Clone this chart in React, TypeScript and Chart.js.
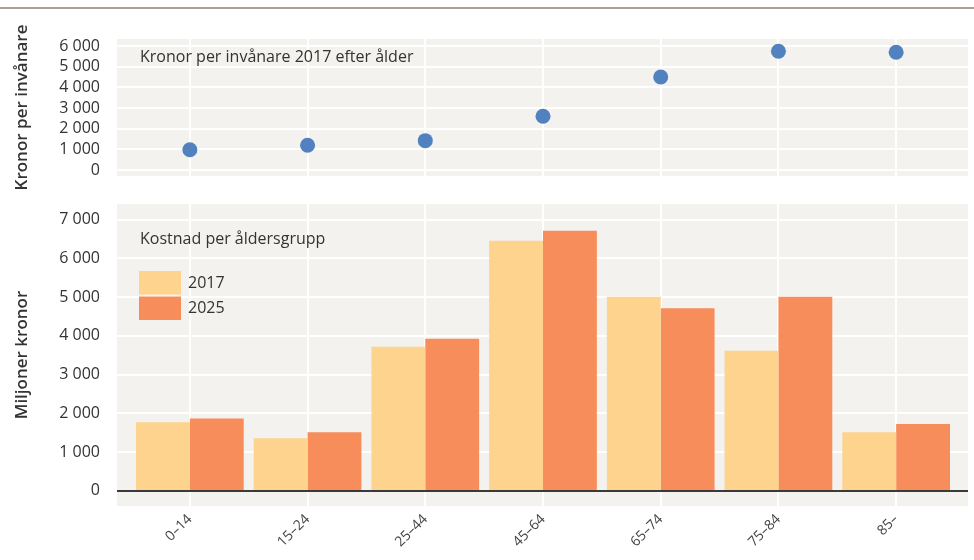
import React, { useEffect, useRef } from 'react';
import { Chart, registerables } from 'chart.js';

Chart.register(...registerables);

// ---- data ----
const categories = ['0–14', '15–24', '25–44', '45–64', '65–74', '75–84', '85–'];
const perCapita2017 = [980, 1200, 1420, 2600, 4500, 5750, 5700];
const cost2017 = [1770, 1360, 3720, 6450, 5010, 3615, 1510];
const cost2025 = [1870, 1510, 3925, 6710, 4710, 5010, 1725];
const seriesLabels = ['2017', '2025'];
const topTicks = [0, 1000, 2000, 3000, 4000, 5000, 6000];
const bottomTicks = [0, 1000, 2000, 3000, 4000, 5000, 6000, 7000];
const topTitle = 'Kronor per invånare 2017 efter ålder';
const bottomTitle = 'Kostnad per åldersgrupp';
const topAxisTitle = 'Kronor per invånare';
const bottomAxisTitle = 'Miljoner kronor';

const FONT = '"Open Sans", "Noto Sans", sans-serif';
const TEXT = '#333333';
const PANEL_BG = '#f3f2ef';
const COLOR_2017 = '#fdd38d';
const COLOR_2025 = '#f68d5a';
const POINT = '#5182bf';

const fmt = (v: number) => String(v).replace(/\B(?=(\d{3})+(?!\d))/g, ' ');

const panelPlugin = {
  id: 'panel',
  beforeDraw(chart: any, _args: any, opts: any) {
    const { ctx, chartArea: a, scales } = chart;
    const left = a.left - opts.padL;
    const right = a.right + opts.padR;
    ctx.save();
    ctx.fillStyle = PANEL_BG;
    ctx.fillRect(left, a.top, right - left, a.bottom - a.top);
    ctx.strokeStyle = '#ffffff';
    ctx.lineWidth = 2;
    scales.y.ticks.forEach((t: any) => {
      const y = Math.round(scales.y.getPixelForValue(t.value));
      ctx.beginPath();
      ctx.moveTo(left, y);
      ctx.lineTo(right, y);
      ctx.stroke();
    });
    ctx.restore();
  },
  afterDatasetsDraw(chart: any, _args: any, opts: any) {
    const { ctx, chartArea: a, scales } = chart;
    const left = a.left - opts.padL;
    const right = a.right + opts.padR;
    ctx.save();
    if (opts.zeroLine) {
      const y = Math.round(scales.y.getPixelForValue(0));
      ctx.strokeStyle = '#3a3a3a';
      ctx.lineWidth = 2;
      ctx.beginPath();
      ctx.moveTo(left, y);
      ctx.lineTo(right, y);
      ctx.stroke();
    }
    ctx.fillStyle = TEXT;
    ctx.font = `16px ${FONT}`;
    ctx.textBaseline = 'middle';
    ctx.textAlign = 'left';
    ctx.fillText(opts.title, a.left + 9, a.top + opts.titleDy);
    if (opts.legend) {
      chart.data.datasets.forEach((ds: any, i: number) => {
        const y0 = a.top + 67 + i * 25.5;
        ctx.fillStyle = ds.backgroundColor;
        ctx.fillRect(a.left + 8, y0, 42, 23.5);
        ctx.fillStyle = TEXT;
        ctx.font = `16px ${FONT}`;
        ctx.fillText(ds.label, a.left + 57, y0 + 12);
      });
    }
    ctx.restore();
  },
};

const yTitle = (text: string) => ({
  display: true,
  text,
  color: TEXT,
  font: { family: FONT, size: 17, weight: '600' },
  padding: { top: 12, bottom: 0 },
});

const yAxisCommon = (values: number[], title: string) => ({
  afterBuildTicks: (s: any) => {
    s.ticks = values.map((v) => ({ value: v }));
  },
  ticks: {
    padding: 31,
    color: TEXT,
    font: { family: FONT, size: 16 },
    callback: (v: any) => fmt(Number(v)),
  },
  grid: { display: false, drawTicks: false },
  border: { display: false },
  title: yTitle(title),
  afterFit: (s: any) => {
    s.width = 131;
    s.paddingTop = 8;
    s.paddingBottom = 8;
  },
});

export default function App() {
  const topRef = useRef<HTMLCanvasElement>(null);
  const botRef = useRef<HTMLCanvasElement>(null);

  useEffect(() => {
    const top = new Chart(topRef.current!, {
      type: 'line',
      data: {
        labels: categories,
        datasets: [
          {
            label: topTitle,
            data: perCapita2017,
            showLine: false,
            pointRadius: 7.5,
            pointHoverRadius: 7.5,
            pointBackgroundColor: POINT,
            pointBorderWidth: 0,
            borderColor: POINT,
          },
        ],
      },
      plugins: [panelPlugin as any],
      options: {
        responsive: false,
        animation: false,
        devicePixelRatio: 1,
        layout: { padding: { top: 39, bottom: 14, left: 0, right: 19 } },
        plugins: {
          legend: { display: false },
          tooltip: { enabled: false },
          panel: { padL: 14, padR: 13, title: topTitle, titleDy: 18, legend: false, zeroLine: false },
        } as any,
        scales: {
          x: {
            type: 'category',
            offset: true,
            grid: { offset: false, color: '#ffffff', lineWidth: 2, drawTicks: false },
            border: { display: false },
            ticks: { display: false },
            afterFit: (s: any) => { s.height = 0; },
          },
          y: {
            min: -290,
            max: 6340,
            ...yAxisCommon(topTicks, topAxisTitle),
          },
        },
      } as any,
    });

    const bottom = new Chart(botRef.current!, {
      type: 'bar',
      data: {
        labels: categories,
        datasets: [
          { label: seriesLabels[0], data: cost2017, backgroundColor: COLOR_2017, borderWidth: 0 },
          { label: seriesLabels[1], data: cost2025, backgroundColor: COLOR_2025, borderWidth: 0 },
        ],
      },
      plugins: [panelPlugin as any],
      options: {
        responsive: false,
        animation: false,
        devicePixelRatio: 1,
        datasets: { bar: { categoryPercentage: 0.915, barPercentage: 1.0 } },
        layout: { padding: { top: 14, bottom: 0, left: 0, right: 19 } },
        plugins: {
          legend: { display: false },
          tooltip: { enabled: false },
          panel: { padL: 14, padR: 13, title: bottomTitle, titleDy: 35, legend: true, zeroLine: true },
        } as any,
        scales: {
          x: {
            type: 'category',
            offset: true,
            grid: { offset: false, color: '#ffffff', lineWidth: 2, drawTicks: false },
            border: { display: false },
            ticks: {
              maxRotation: 45,
              minRotation: 45,
              padding: 5,
              color: '#444444',
              font: { family: FONT, size: 14 },
            },
            afterFit: (s: any) => { s.height = 54; },
          },
          y: {
            min: -390,
            max: 7400,
            ...yAxisCommon(bottomTicks, bottomAxisTitle),
          },
        },
      } as any,
    });

    return () => {
      top.destroy();
      bottom.destroy();
    };
  }, []);

  return (
    <div style={{ position: 'fixed', left: 0, top: 0, width: 974, height: 560, background: '#ffffff' }}>
      <div style={{ position: 'absolute', left: 0, top: 7, width: 974, height: 2, background: '#a9a199' }} />
      <canvas ref={topRef} width={974} height={190} style={{ position: 'absolute', left: 0, top: 0, width: 974, height: 190 }} />
      <canvas ref={botRef} width={974} height={370} style={{ position: 'absolute', left: 0, top: 190, width: 974, height: 370 }} />
    </div>
  );
}
